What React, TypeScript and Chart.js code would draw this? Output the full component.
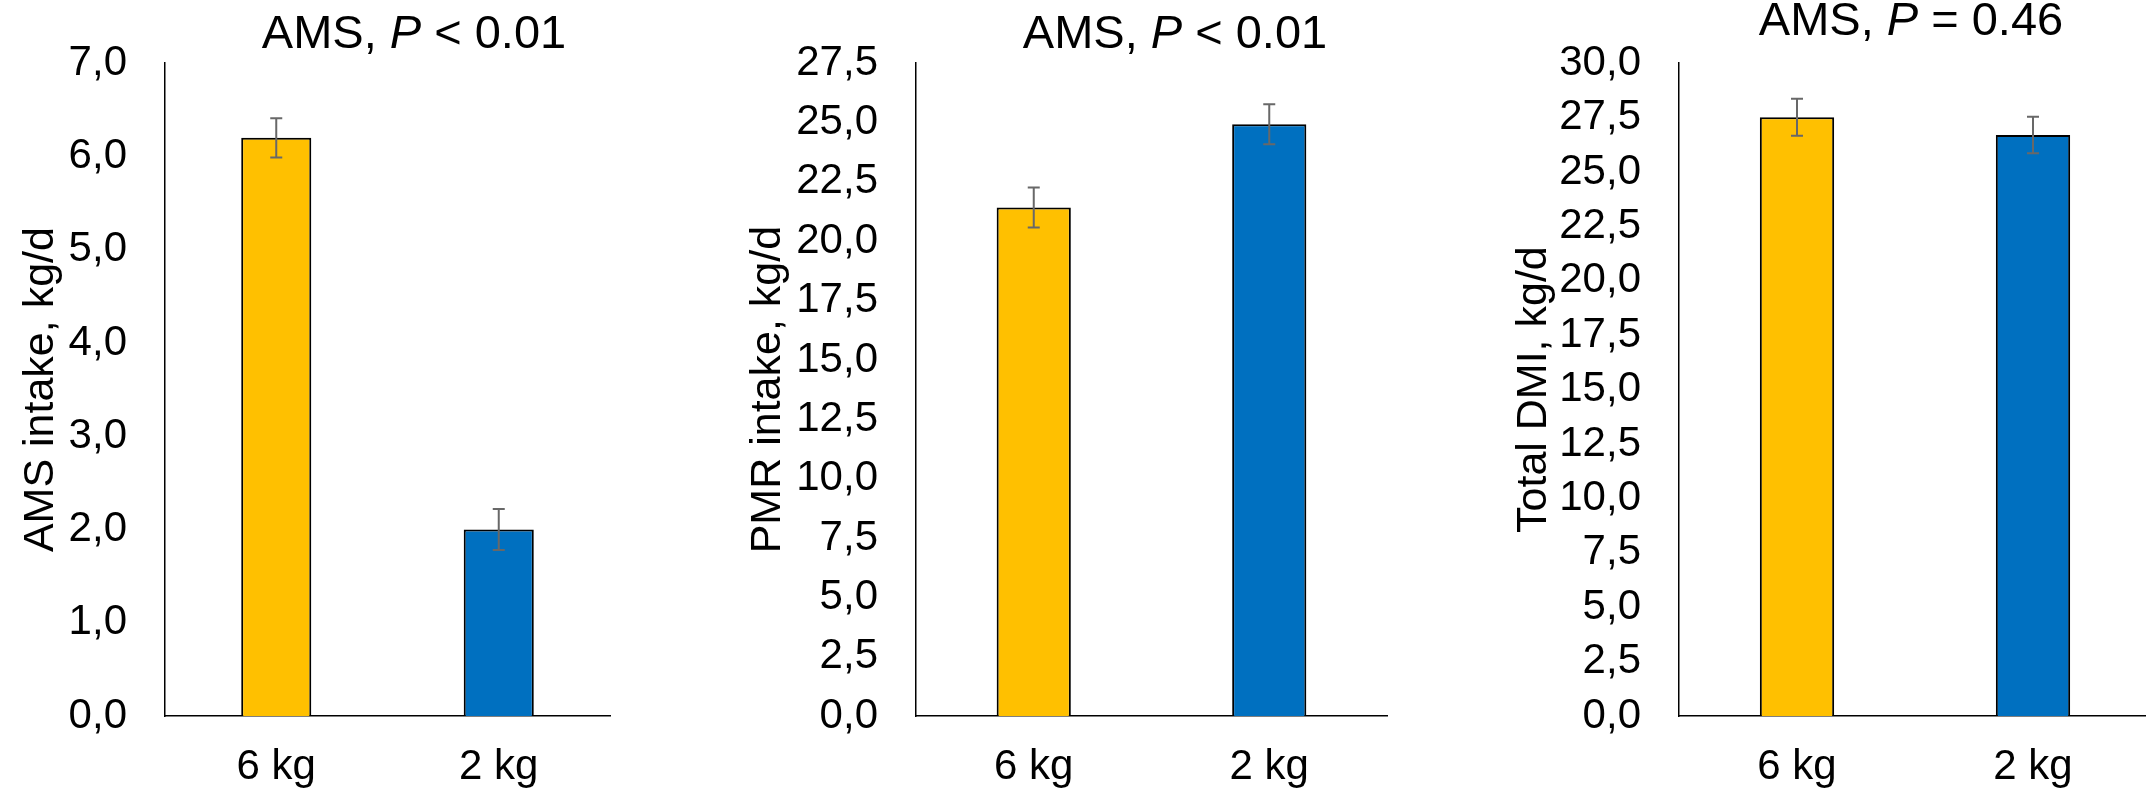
import React, { useEffect, useRef } from "react";
import { Chart, registerables } from "chart.js";

Chart.register(...registerables);

// ---- Data ----
const categories = ["6 kg", "2 kg"];
const barColors = ["#FFC000", "#0070C0"];

const amsIntake = [6.2, 2.0];
const amsIntakeErr = [0.21, 0.22];

const pmrIntake = [21.42, 24.93];
const pmrIntakeErr = [0.84, 0.84];

const totalDmi = [27.52, 26.7];
const totalDmiErr = [0.85, 0.84];

const amsAxis = { min: 0, max: 7, step: 1 };
const pmrAxis = { min: 0, max: 27.5, step: 2.5 };
const dmiAxis = { min: 0, max: 30, step: 2.5 };

const amsTitle = ["AMS, ", "P", " < 0.01"];
const pmrTitle = ["AMS, ", "P", " < 0.01"];
const dmiTitle = ["AMS, ", "P", " = 0.46"];

const amsYLabel = "AMS intake, kg/d";
const pmrYLabel = "PMR intake, kg/d";
const dmiYLabel = "Total DMI, kg/d";

const FONT = "'Liberation Sans', Arial, Helvetica, sans-serif";

const errorBarPlugin = {
  id: "errorBars",
  afterDatasetsDraw(chart: any, _args: any, opts: any) {
    const errs: number[] = opts.errors || [];
    const meta = chart.getDatasetMeta(0);
    const ys = chart.scales.y;
    const vals = chart.data.datasets[0].data as number[];
    const ctx = chart.ctx;
    ctx.save();
    ctx.strokeStyle = "#686868";
    ctx.lineWidth = 2;
    meta.data.forEach((bar: any, i: number) => {
      const v = vals[i];
      const e = errs[i] || 0;
      const x = bar.x;
      const yt = ys.getPixelForValue(v + e);
      const yb = ys.getPixelForValue(v - e);
      ctx.beginPath();
      ctx.moveTo(x, yt);
      ctx.lineTo(x, yb);
      ctx.moveTo(x - 6, yt);
      ctx.lineTo(x + 6, yt);
      ctx.moveTo(x - 6, yb);
      ctx.lineTo(x + 6, yb);
      ctx.stroke();
    });
    ctx.restore();
  },
};

const textPlugin = {
  id: "panelText",
  afterDraw(chart: any, _args: any, opts: any) {
    const ctx = chart.ctx;
    const area = chart.chartArea;
    ctx.save();
    ctx.fillStyle = "#000";
    // title with italic P
    const parts: string[] = opts.title;
    const fonts = parts.map((_, i) =>
      i === 1 ? `italic 47px ${FONT}` : `47px ${FONT}`
    );
    let total = 0;
    const widths = parts.map((p, i) => {
      ctx.font = fonts[i];
      const w = ctx.measureText(p).width;
      total += w;
      return w;
    });
    let x = opts.titleX - total / 2;
    ctx.textBaseline = "alphabetic";
    ctx.textAlign = "left";
    parts.forEach((p, i) => {
      ctx.font = fonts[i];
      ctx.fillText(p, x, opts.titleY);
      x += widths[i];
    });
    // rotated y-axis title
    ctx.font = `43px ${FONT}`;
    ctx.translate(opts.yTitleX, (area.top + area.bottom) / 2);
    ctx.rotate(-Math.PI / 2);
    ctx.textAlign = "center";
    ctx.textBaseline = "alphabetic";
    ctx.fillText(opts.yLabel, 0, 0);
    ctx.restore();
  },
};

type PanelProps = {
  left: number;
  width: number;
  axisX: number;
  top: number;
  right: number;
  titleCx: number;
  titleBase: number;
  yTitleBase: number;
  values: number[];
  errors: number[];
  axis: { min: number; max: number; step: number };
  title: string[];
  yLabel: string;
};

const HEIGHT = 791;
const BOTTOM = 716;

function Panel(p: PanelProps) {
  const ref = useRef<HTMLCanvasElement | null>(null);
  useEffect(() => {
    if (!ref.current) return;
    const yWidth = p.axisX - p.left;
    const padRight = p.left + p.width - p.right;
    const chart = new Chart(ref.current, {
      type: "bar",
      data: {
        labels: categories,
        datasets: [
          {
            data: p.values,
            backgroundColor: barColors,
            borderColor: "#000000",
            borderWidth: 2,
            barPercentage: 0.315,
            categoryPercentage: 1,
          },
        ],
      },
      options: {
        responsive: false,
        devicePixelRatio: 1,
        animation: false,
        events: [],
        layout: { padding: { left: 0, top: p.top, right: padRight, bottom: 0 } },
        plugins: {
          legend: { display: false },
          tooltip: { enabled: false },
          title: { display: false },
          errorBars: { errors: p.errors },
          panelText: {
            title: p.title,
            titleX: p.titleCx - p.left,
            titleY: p.titleBase,
            yLabel: p.yLabel,
            yTitleX: p.yTitleBase - p.left,
          },
        } as any,
        scales: {
          x: {
            grid: { display: false, drawTicks: false },
            border: { display: true, color: "#000", width: 1.5 },
            ticks: {
              color: "#000",
              font: { family: FONT, size: 42 },
              padding: 26,
              maxRotation: 0,
              autoSkip: false,
            },
            afterFit(scale: any) {
              scale.height = HEIGHT - BOTTOM;
            },
          },
          y: {
            min: p.axis.min,
            max: p.axis.max,
            grid: { display: false, drawTicks: false },
            border: { display: true, color: "#000", width: 1.5 },
            ticks: {
              stepSize: p.axis.step,
              color: "#000",
              font: { family: FONT, size: 42 },
              padding: 38,
              autoSkip: false,
              callback: (v: any) => Number(v).toFixed(1).replace(".", ","),
            },
            afterFit(scale: any) {
              scale.width = yWidth;
            },
          },
        },
      },
      plugins: [errorBarPlugin, textPlugin],
    });
    return () => chart.destroy();
  }, []);
  return (
    <canvas
      ref={ref}
      width={p.width}
      height={HEIGHT}
      style={{
        position: "absolute",
        left: p.left,
        top: 0,
        width: p.width,
        height: HEIGHT,
      }}
    />
  );
}

export default function App() {
  return (
    <div
      style={{
        position: "fixed",
        left: 0,
        top: 0,
        width: 2146,
        height: 791,
        overflow: "hidden",
        background: "#fff",
      }}
    >
      <Panel
        left={0}
        width={700}
        axisX={165}
        top={45}
        right={610}
        titleCx={414}
        titleBase={48}
        yTitleBase={53}
        values={amsIntake}
        errors={amsIntakeErr}
        axis={amsAxis}
        title={amsTitle}
        yLabel={amsYLabel}
      />
      <Panel
        left={700}
        width={720}
        axisX={916}
        top={47}
        right={1387}
        titleCx={1175}
        titleBase={48}
        yTitleBase={780}
        values={pmrIntake}
        errors={pmrIntakeErr}
        axis={pmrAxis}
        title={pmrTitle}
        yLabel={pmrYLabel}
      />
      <Panel
        left={1426}
        width={730}
        axisX={1679}
        top={45}
        right={2151}
        titleCx={1911}
        titleBase={35}
        yTitleBase={1546}
        values={totalDmi}
        errors={totalDmiErr}
        axis={dmiAxis}
        title={dmiTitle}
        yLabel={dmiYLabel}
      />
    </div>
  );
}
